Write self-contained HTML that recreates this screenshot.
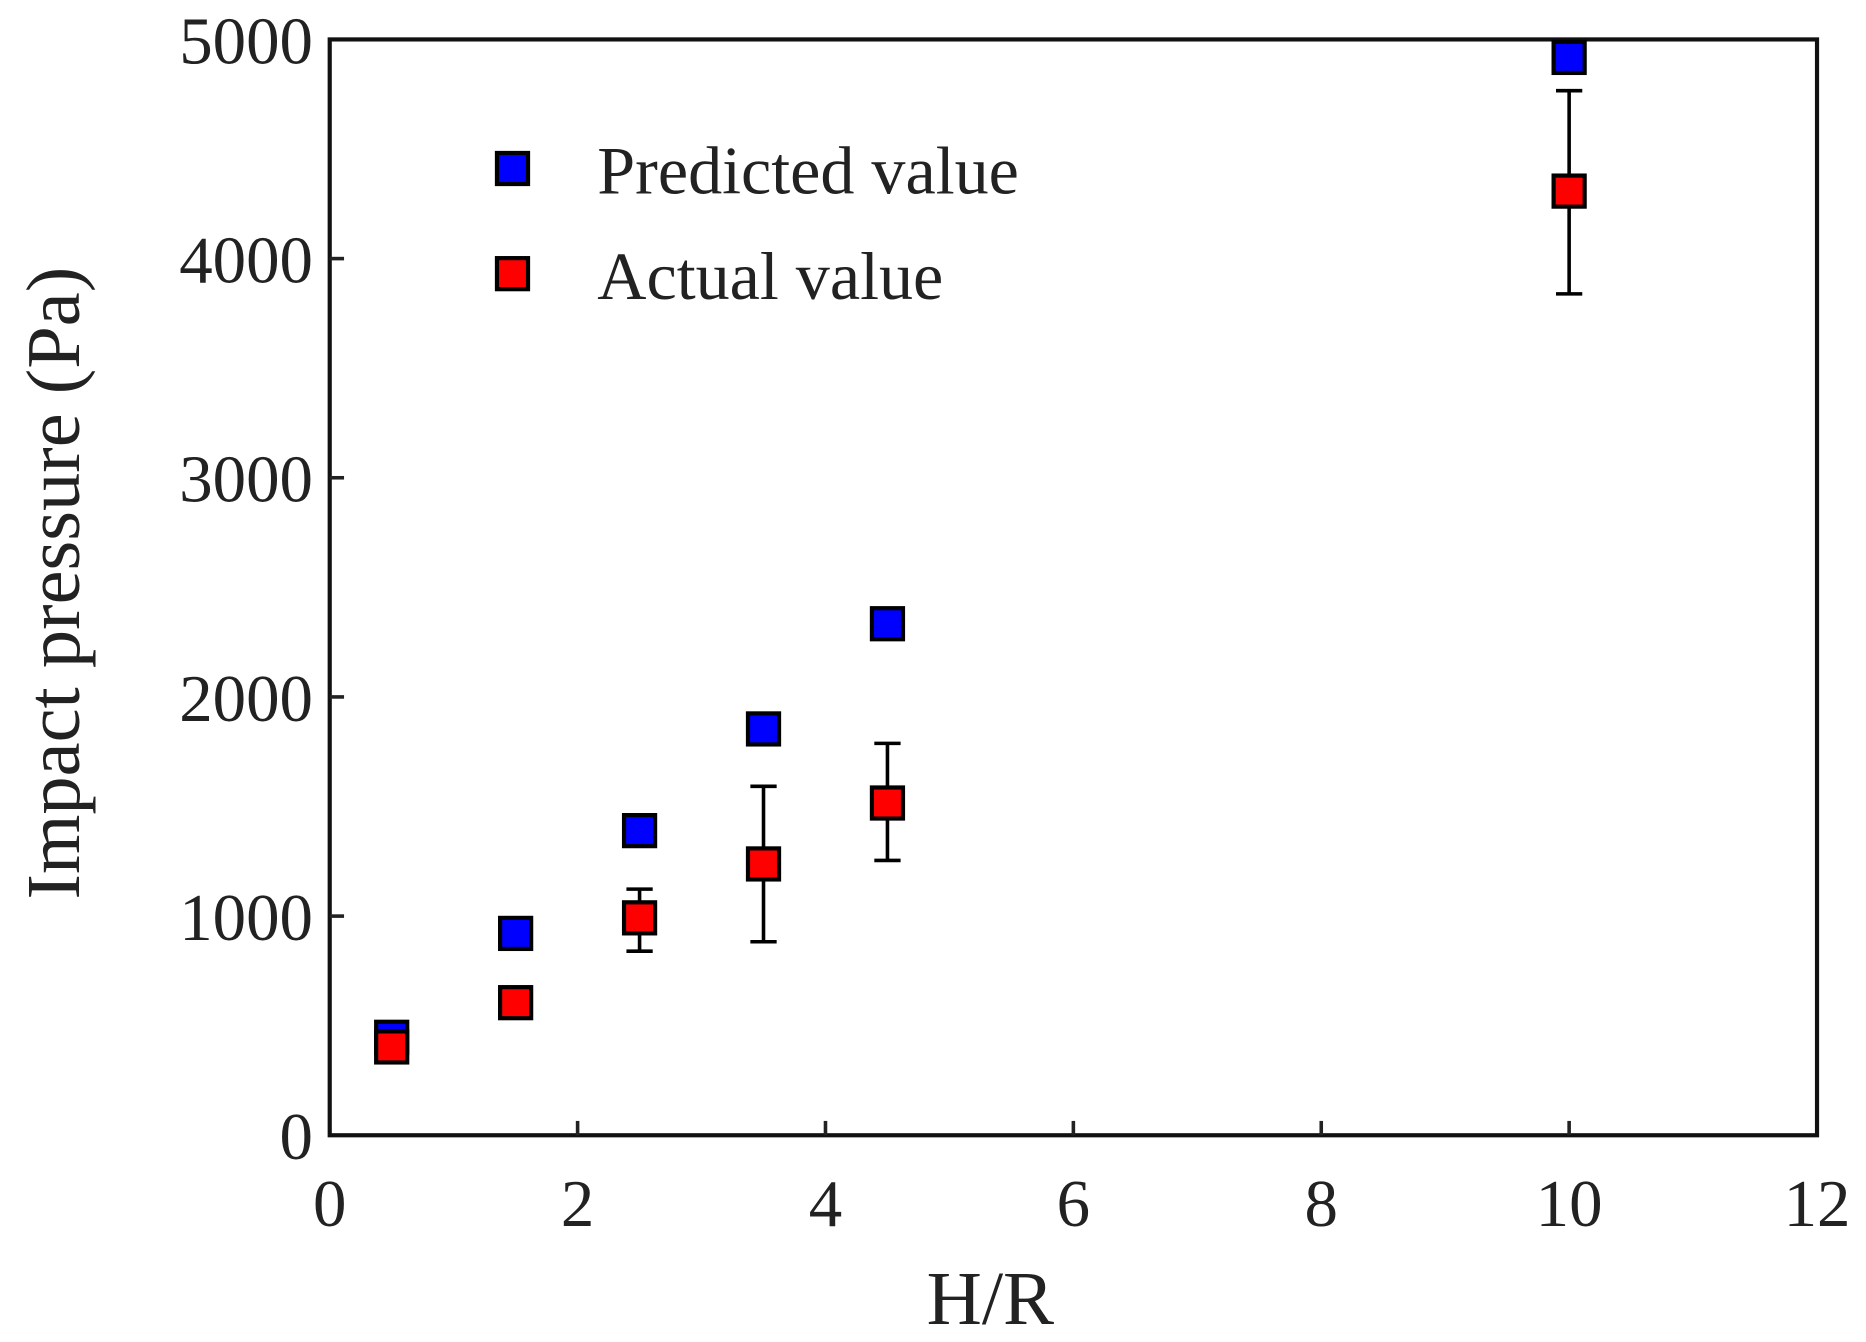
<!DOCTYPE html>
<html><head><meta charset="utf-8"><style>
html,body{margin:0;padding:0;background:#fff;}
svg{display:block;}
text{font-family:"Liberation Serif",serif;fill:#222;}
</style></head><body>
<svg id="chart" width="1866" height="1342" viewBox="0 0 1562 1123" preserveAspectRatio="none" xmlns="http://www.w3.org/2000/svg">
<g id="axes"></g>
<g id="marks"></g>
<g id="legend">
 <rect x="416" y="128" width="26" height="26" fill="#0000ff" stroke="#000" stroke-width="3.5"/>
 <text x="500" y="162" font-size="57">Predicted value</text>
 <rect x="416" y="216" width="26" height="26" fill="#ff0000" stroke="#000" stroke-width="3.5"/>
 <text x="500" y="250" font-size="57">Actual value</text>
</g>
<text x="829" y="1108" font-size="64" text-anchor="middle">H/R</text>
<text transform="translate(66,488) rotate(-90)" font-size="64" text-anchor="middle">Impact pressure (Pa)</text>
</svg>
<script>
const xValues = [0.5, 1.5, 2.5, 3.5, 4.5, 10];
const predicted = [447, 921, 1390, 1854, 2334, 4918];
const actual = [403, 605, 992, 1238, 1516, 4308];
const errLow = [null, null, 840, 883, 1254, 3839];
const errHigh = [null, null, 1123, 1592, 1788, 4766];
const xTicks = [0, 2, 4, 6, 8, 10, 12];
const yTicks = [0, 1000, 2000, 3000, 4000, 5000];

const L = 276, R = 1521, T = 33, B = 950;
const xMax = 12, yMax = 5000;
function sx(v) { return L + (R - L) * v / xMax; }
function sy(v) { return B - (B - T) * v / yMax; }
const NS = 'http://www.w3.org/2000/svg';
function mk(tag, attrs, parent) {
  const e = document.createElementNS(NS, tag);
  for (const k in attrs) e.setAttribute(k, attrs[k]);
  parent.appendChild(e);
  return e;
}
const axes = document.getElementById('axes');
const marks = document.getElementById('marks');

const frame = mk('rect', {x: L, y: T, width: R - L, height: B - T, fill: 'none', stroke: '#111', 'stroke-width': 3.5}, axes);



xTicks.forEach(t => {
  const x = sx(t);
  if (t > 0 && t < xMax) {
    const tk = mk('line', {x1: x, x2: x, y1: B, y2: B - 12, stroke: '#222', 'stroke-width': 3}, axes);
    
    
  }
  const lb = mk('text', {x: x, y: 1026, 'font-size': 56, 'text-anchor': 'middle'}, axes);
  lb.textContent = t;
  
  
});
yTicks.forEach(t => {
  const y = sy(t);
  if (t > 0 && t < yMax) {
    const tk = mk('line', {x1: L, x2: L + 12, y1: y, y2: y, stroke: '#222', 'stroke-width': 3}, axes);
    
    
  }
  const lb = mk('text', {x: 262, y: y + 20, 'font-size': 56, 'text-anchor': 'end'}, axes);
  lb.textContent = t;
  
  
});

xValues.forEach((xv, i) => {
  const x = sx(xv);
  if (errLow[i] !== null) {
    const g = mk('g', {stroke: '#000', 'stroke-width': 3}, marks);
    
    
    mk('line', {x1: x, x2: x, y1: sy(errLow[i]), y2: sy(errHigh[i])}, g);
    mk('line', {x1: x - 11, x2: x + 11, y1: sy(errLow[i]), y2: sy(errLow[i])}, g);
    mk('line', {x1: x - 11, x2: x + 11, y1: sy(errHigh[i]), y2: sy(errHigh[i])}, g);
  }
});
function square(xv, yv, color, name) {
  const r = mk('rect', {x: sx(xv) - 13, y: sy(yv) - 13, width: 26, height: 26, fill: color, stroke: '#000', 'stroke-width': 3.5}, marks);
  
  
}
xValues.forEach((xv, i) => square(xv, predicted[i], '#0000ff', 'predicted-point'));
xValues.forEach((xv, i) => square(xv, actual[i], '#ff0000', 'actual-point'));
</script>
</body></html>
